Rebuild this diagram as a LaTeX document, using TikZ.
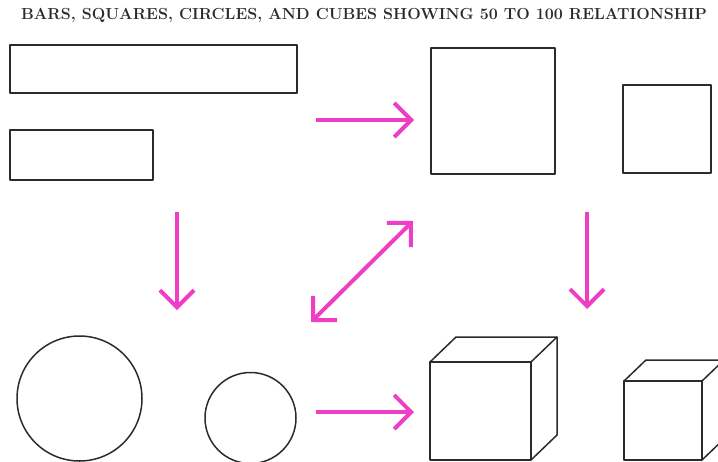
\documentclass[tikz,border=0pt]{standalone}
\usepackage{tikz}
\usepackage{xcolor}
\usetikzlibrary{arrows.meta,positioning}
\definecolor{ink}{HTML}{2B2B2B}
\definecolor{pinkarr}{HTML}{EE3EC6}

\begin{document}
\begin{tikzpicture}[x=1pt,y=-1pt,line join=round,
  outline/.style={draw=ink,line width=1.5pt,inner sep=0pt,outer sep=0pt},
  bar/.style={outline,rectangle},
  ball/.style={outline,circle},
  arr/.style={-{Straight Barb[length=17pt,width=34pt]},line width=4pt,draw=pinkarr},
  dbl/.style={{Straight Barb[length=17pt,width=34pt]}-{Straight Barb[length=17pt,width=34pt]},
              line width=4pt,draw=pinkarr},
  title/.style={font=\bfseries\fontsize{16}{18}\selectfont,text=ink}]

  \clip (0,0) rectangle (718,461);

  \node[title] (head) at (364,15)
    {BARS, SQUARES, CIRCLES, AND CUBES SHOWING 50 TO 100 RELATIONSHIP};

  % bars and squares
  \node[bar,minimum width=287pt,minimum height=48pt] (bigbar) at (153.5,69) {};
  \node[bar,minimum width=143pt,minimum height=50pt] (smallbar) at (81.5,155) {};
  \node[bar,minimum width=124pt,minimum height=126pt] (bigsq) at (493,111) {};
  \node[bar,minimum width=88pt,minimum height=88pt] (smallsq) at (667,129) {};

  % circles
  \node[ball,minimum size=125pt] (bigball) at (79.5,398.5) {};
  \node[ball,minimum size=91pt] (smallball) at (250.5,418) {};

  % cubes
  \node[bar,minimum width=101pt,minimum height=98pt] (bigcube) at (480.5,411) {};
  \draw[outline] (bigcube.north west) -- ++(26,-25) -- ++(101,0) -- ++(0,98)
    -- (bigcube.south east);
  \draw[outline] (bigcube.north east) -- ++(26,-25);
  \node[bar,minimum width=78pt,minimum height=79pt] (smallcube) at (663,420.5) {};
  \draw[outline] (smallcube.north west) -- ++(22,-21) -- ++(78,0) -- ++(0,79)
    -- (smallcube.south east);
  \draw[outline] (smallcube.north east) -- ++(22,-21);

  % arrows
  \coordinate (a1) at (316,120);  \coordinate (b1) at (414,120);
  \coordinate (a2) at (177,212);  \coordinate (b2) at (177,310);
  \coordinate (a3) at (311,322);  \coordinate (b3) at (413,221);
  \coordinate (a4) at (587,212);  \coordinate (b4) at (587,309);
  \coordinate (a5) at (316,412);  \coordinate (b5) at (414,412);
  \draw[arr] (a1) -- (b1);
  \draw[arr] (a2) -- (b2);
  \draw[dbl] (a3) -- (b3);
  \draw[arr] (a4) -- (b4);
  \draw[arr] (a5) -- (b5);
\end{tikzpicture}
\end{document}
